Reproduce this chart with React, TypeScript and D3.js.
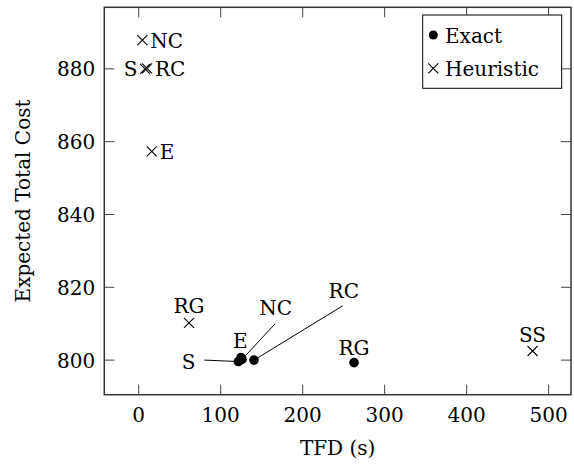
import React, { useEffect, useRef } from 'react';
import * as d3 from 'd3';

// values
const xTicks = [0, 100, 200, 300, 400, 500];
const yTicks = [800, 820, 840, 860, 880];

const exactNames = ['S', 'E', 'NC', 'RC', 'RG'];
const exactTFD = [121.5, 124.8, 126, 140.6, 262.6];
const exactCost = [799.6, 800.7, 800.2, 800.0, 799.3];

const heurNames = ['NC', 'S', 'RC', 'E', 'RG', 'SS'];
const heurTFD = [4.4, 7.7, 10.1, 15.9, 61.3, 480.4];
const heurCost = [887.9, 880.0, 880.1, 857.3, 810.2, 802.5];

const width = 574;
const height = 470;
const left = 104.3;
const right = 571;
const top = 7.3;
const bottom = 394.7;
const font = '"DejaVu Serif", serif';
const fontSize = 20;

export default function App() {
  const ref = useRef<SVGSVGElement>(null);

  useEffect(() => {
    document.body.style.margin = '0';
    const svg = d3.select(ref.current);
    svg.selectAll('*').remove();

    const xScale = d3.scaleLinear().domain([-42, 527.3]).range([left, right]);
    const yScale = d3.scaleLinear().domain([790.5, 896.9]).range([bottom, top]);

    const g = svg
      .append('g')
      .attr('font-family', font)
      .attr('font-size', fontSize);

    // ticks, inside on all four sides
    const tick = 10;
    xTicks.forEach((t) => {
      const x = xScale(t);
      g.append('line').attr('x1', x).attr('x2', x).attr('y1', bottom).attr('y2', bottom - tick)
        .attr('stroke', '#444').attr('stroke-width', 1);
      g.append('line').attr('x1', x).attr('x2', x).attr('y1', top).attr('y2', top + tick)
        .attr('stroke', '#444').attr('stroke-width', 1);
      g.append('text').attr('x', x).attr('y', bottom + 27).attr('text-anchor', 'middle').text(t);
    });
    yTicks.forEach((t) => {
      const y = yScale(t);
      g.append('line').attr('x1', left).attr('x2', left + tick).attr('y1', y).attr('y2', y)
        .attr('stroke', '#444').attr('stroke-width', 1);
      g.append('line').attr('x1', right).attr('x2', right - tick).attr('y1', y).attr('y2', y)
        .attr('stroke', '#444').attr('stroke-width', 1);
      g.append('text').attr('x', left - 9).attr('y', y + 7.5).attr('text-anchor', 'end').text(t);
    });

    g.append('rect')
      .attr('x', left).attr('y', top)
      .attr('width', right - left).attr('height', bottom - top)
      .attr('fill', 'none').attr('stroke', '#333').attr('stroke-width', 1.5);

    // axis titles
    g.append('text')
      .attr('x', (left + right) / 2).attr('y', 455)
      .attr('text-anchor', 'middle')
      .text('TFD (s)');
    g.append('text')
      .attr('transform', `translate(30, ${(top + bottom) / 2}) rotate(-90)`)
      .attr('text-anchor', 'middle')
      .text('Expected Total Cost');

    const cross = (sel: any, x: number, y: number, s: number) => {
      sel.append('path')
        .attr('d', `M${x - s},${y - s}L${x + s},${y + s}M${x - s},${y + s}L${x + s},${y - s}`)
        .attr('stroke', '#000').attr('stroke-width', 1.1).attr('fill', 'none');
    };

    // heuristic points
    const heurPlace: Record<string, string> = {
      NC: 'right', S: 'left', RC: 'right', E: 'right', RG: 'above', SS: 'above',
    };
    heurNames.forEach((name, i) => {
      const x = xScale(heurTFD[i]);
      const y = yScale(heurCost[i]);
      cross(g, x, y, 5);
      const p = heurPlace[name];
      const t = g.append('text');
      if (p === 'right') t.attr('x', x + 8).attr('y', y + 7.5).attr('text-anchor', 'start');
      if (p === 'left') t.attr('x', x - 7.5).attr('y', y + 7.5).attr('text-anchor', 'end');
      if (p === 'above') t.attr('x', x).attr('y', y - 9.5).attr('text-anchor', 'middle');
      t.text(name);
    });

    // exact points with pins
    const exactPins: Record<string, any> = {
      S: { dx: -43, dy: 7, anchor: 'end', line: [-34, -1.5] },
      E: { dx: -0.7, dy: -10, anchor: 'middle' },
      NC: { dx: 33.7, dy: -44.5, anchor: 'middle', line: [33, -35.5] },
      RC: { dx: 89.8, dy: -62.6, anchor: 'middle', line: [88.7, -54.3] },
      RG: { dx: 0, dy: -7.5, anchor: 'middle' },
    };
    exactNames.forEach((name, i) => {
      const x = xScale(exactTFD[i]);
      const y = yScale(exactCost[i]);
      const pin = exactPins[name];
      if (pin.line) {
        g.append('line')
          .attr('x1', x + pin.line[0]).attr('y1', y + pin.line[1])
          .attr('x2', x).attr('y2', y)
          .attr('stroke', '#000').attr('stroke-width', 1);
      }
      g.append('text')
        .attr('x', x + pin.dx).attr('y', y + pin.dy)
        .attr('text-anchor', pin.anchor)
        .text(name);
    });
    exactNames.forEach((name, i) => {
      g.append('circle')
        .attr('cx', xScale(exactTFD[i])).attr('cy', yScale(exactCost[i]))
        .attr('r', 4.8).attr('fill', '#000');
    });

    // legend
    const legend = g.append('g');
    legend.append('rect')
      .attr('x', 422.7).attr('y', 15).attr('width', 139).attr('height', 73.3)
      .attr('fill', '#fff').attr('stroke', '#000').attr('stroke-width', 1);
    legend.append('circle').attr('cx', 433.3).attr('cy', 35).attr('r', 4.5).attr('fill', '#000');
    legend.append('text').attr('x', 445).attr('y', 42.5).text('Exact');
    cross(legend, 433.3, 68.3, 5);
    legend.append('text').attr('x', 445).attr('y', 75.5).text('Heuristic');
  }, []);

  return <svg ref={ref} width={width} height={height} style={{ display: 'block' }} />;
}
